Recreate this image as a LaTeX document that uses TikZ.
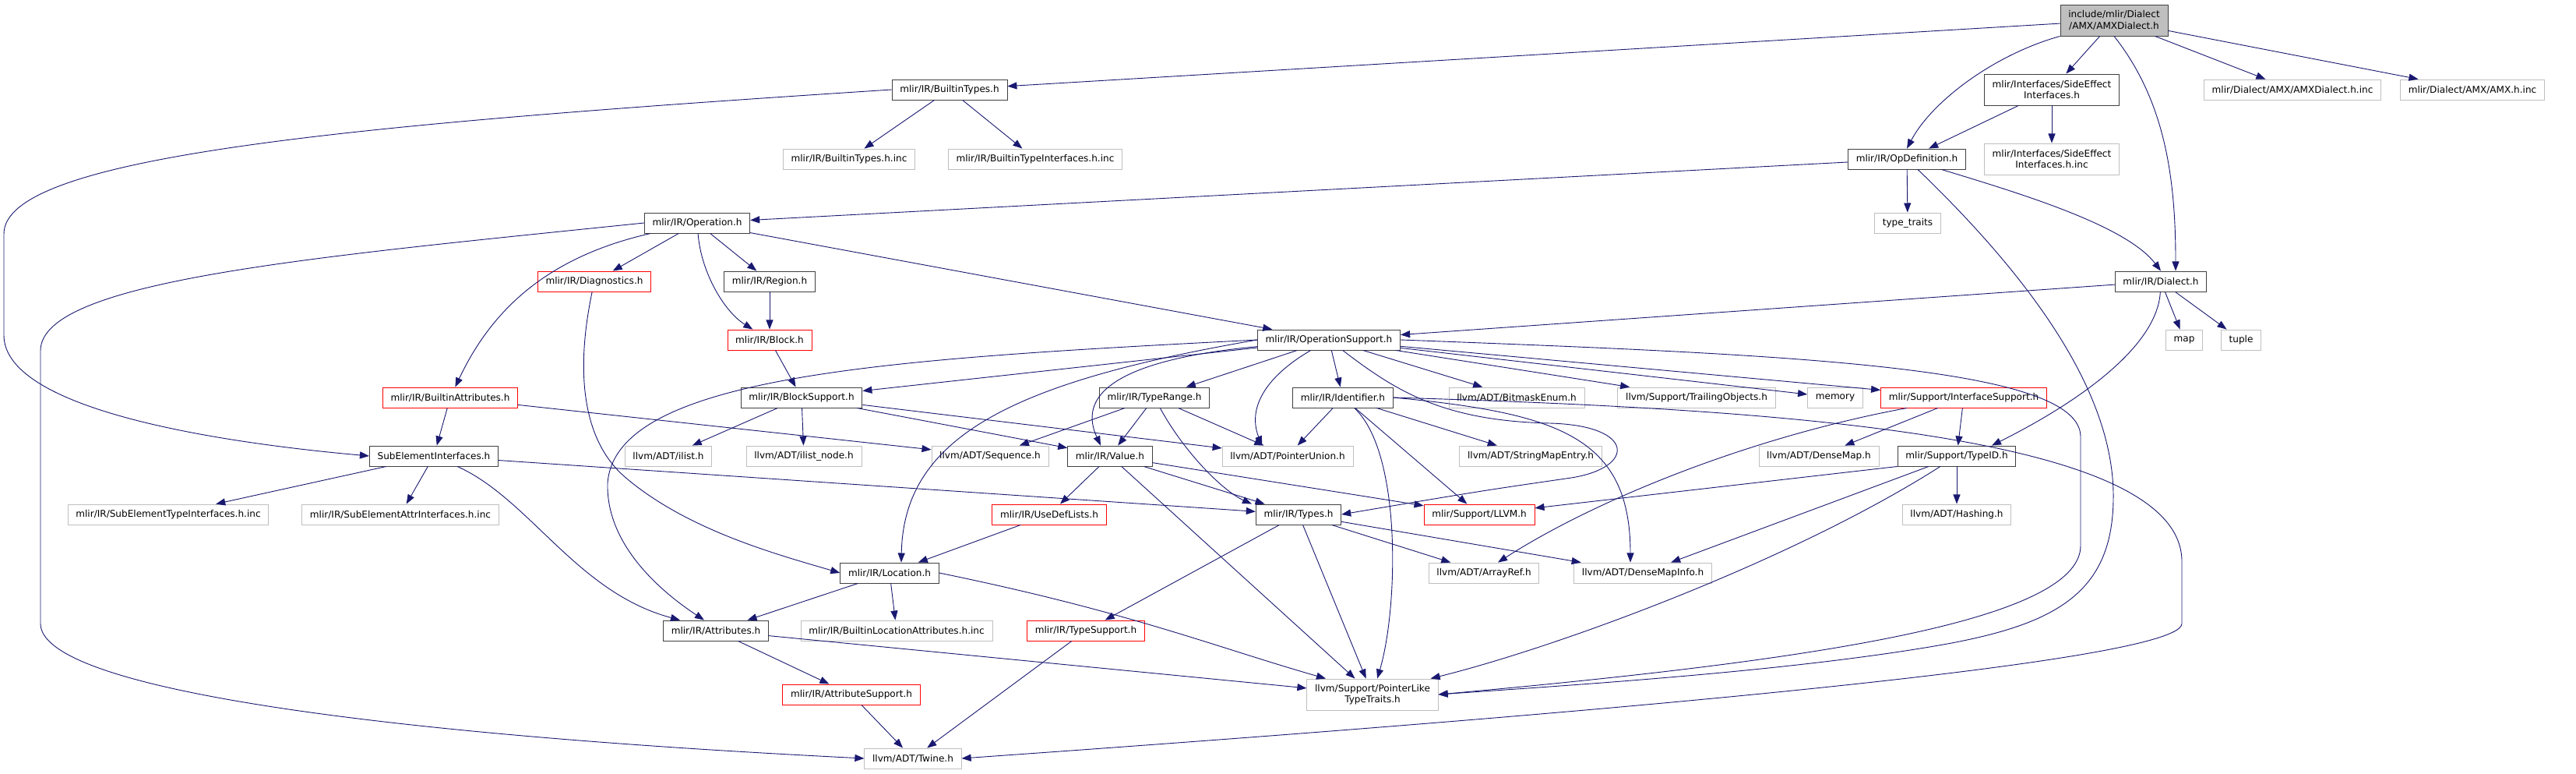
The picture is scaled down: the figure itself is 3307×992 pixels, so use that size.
\documentclass[tikz,border=0pt]{standalone}
\usepackage{fontspec}
\setmainfont{DejaVu Sans}
\usepackage{xcolor}
\usepackage{tikz}
\usetikzlibrary{arrows.meta,calc}

\definecolor{edgeblue}{HTML}{191970}
\definecolor{boxgrey}{HTML}{BFBFBF}

\tikzset{
  hdr/.style={draw=black!75, line width=0.7pt, fill=white, inner xsep=8.5pt, inner ysep=2pt,
    minimum height=21.6pt, align=center, font=\fontsize{10}{11.9}\selectfont},
  hdrdoc/.style={hdr},
  hdrcut/.style={hdr, draw=red},
  hdrext/.style={hdr, draw=boxgrey},
  hdrroot/.style={hdr, fill=boxgrey},
  tall/.style={minimum height=33.2pt},
  dep/.style={draw=edgeblue, line width=0.75pt, -{Triangle[length=10pt,width=7.5pt]}},
}

\begin{document}
\begin{tikzpicture}[x=0.829pt, y=-0.829pt]
\useasboundingbox (0,0) rectangle (3307,992);

\node[hdrroot, tall] (root) at (2714,26) {include/mlir/Dialect\\/AMX/AMXDialect.h};

\node[hdrdoc] (btypes) at (1219,115) {mlir/IR/BuiltinTypes.h};
\node[hdrdoc, tall] (sideeff) at (2634,115) {mlir/Interfaces/SideEffect\\Interfaces.h};
\node[hdrext] (amxdialinc) at (2943,115) {mlir/Dialect/AMX/AMXDialect.h.inc};
\node[hdrext] (amxinc) at (3174,115) {mlir/Dialect/AMX/AMX.h.inc};

\node[hdrext] (btypesinc) at (1090,204) {mlir/IR/BuiltinTypes.h.inc};
\node[hdrext] (btifaceinc) at (1329,204) {mlir/IR/BuiltinTypeInterfaces.h.inc};
\node[hdrdoc] (opdef) at (2448,204) {mlir/IR/OpDefinition.h};
\node[hdrext, tall] (sideeffinc) at (2634,204) {mlir/Interfaces/SideEffect\\Interfaces.h.inc};

\node[hdrdoc] (operation) at (895,286) {mlir/IR/Operation.h};
\node[hdrext] (typetraits) at (2449,286) {type\_traits};

\node[hdrcut] (diag) at (763,361) {mlir/IR/Diagnostics.h};
\node[hdrdoc] (region) at (988,361) {mlir/IR/Region.h};
\node[hdrdoc] (dialect) at (2774,361) {mlir/IR/Dialect.h};

\node[hdrcut] (block) at (988,436) {mlir/IR/Block.h};
\node[hdrdoc] (opsupp) at (1706,436) {mlir/IR/OperationSupport.h};
\node[hdrext] (mapn) at (2804,436) {map};
\node[hdrext] (tuplen) at (2877,436) {tuple};

\node[hdrcut] (battr) at (578,510) {mlir/IR/BuiltinAttributes.h};
\node[hdrdoc] (blocksupp) at (1029,510) {mlir/IR/BlockSupport.h};
\node[hdrdoc] (typerange) at (1482,510) {mlir/IR/TypeRange.h};
\node[hdrdoc] (ident) at (1724,510) {mlir/IR/Identifier.h};
\node[hdrext] (bitmask) at (1947,510) {llvm/ADT/BitmaskEnum.h};
\node[hdrext] (trailing) at (2178,510) {llvm/Support/TrailingObjects.h};
\node[hdrext] (memory) at (2356,510) {memory};
\node[hdrcut] (ifacesupp) at (2521,510) {mlir/Support/InterfaceSupport.h};

\node[hdrdoc] (subelem) at (557,585) {SubElementInterfaces.h};
\node[hdrext] (ilist) at (858,585) {llvm/ADT/ilist.h};
\node[hdrext] (ilistnode) at (1032,585) {llvm/ADT/ilist\_node.h};
\node[hdrext] (sequence) at (1271,585) {llvm/ADT/Sequence.h};
\node[hdrdoc] (value) at (1425,585) {mlir/IR/Value.h};
\node[hdrext] (ptrunion) at (1653,585) {llvm/ADT/PointerUnion.h};
\node[hdrext] (stringmap) at (1965,585) {llvm/ADT/StringMapEntry.h};
\node[hdrext] (densemap) at (2335,585) {llvm/ADT/DenseMap.h};
\node[hdrdoc] (typeid) at (2512,585) {mlir/Support/TypeID.h};

\node[hdrext] (subtypeinc) at (216,660) {mlir/IR/SubElementTypeInterfaces.h.inc};
\node[hdrext] (subattrinc) at (514,660) {mlir/IR/SubElementAttrInterfaces.h.inc};
\node[hdrcut] (usedef) at (1347,660) {mlir/IR/UseDefLists.h};
\node[hdrdoc] (types) at (1667,660) {mlir/IR/Types.h};
\node[hdrcut] (llvmh) at (1899,660) {mlir/Support/LLVM.h};
\node[hdrext] (hashing) at (2512,660) {llvm/ADT/Hashing.h};

\node[hdrdoc] (location) at (1142,735) {mlir/IR/Location.h};
\node[hdrext] (arrayref) at (1905,735) {llvm/ADT/ArrayRef.h};
\node[hdrext] (dmi) at (2109,735) {llvm/ADT/DenseMapInfo.h};

\node[hdrdoc] (attr) at (919,809) {mlir/IR/Attributes.h};
\node[hdrext] (locattrinc) at (1151,809) {mlir/IR/BuiltinLocationAttributes.h.inc};
\node[hdrcut] (typesupp) at (1394,809) {mlir/IR/TypeSupport.h};

\node[hdrcut] (attrsupp) at (1093,891) {mlir/IR/AttributeSupport.h};
\node[hdrext, tall] (pltt) at (1762,891) {llvm/Support/PointerLike\\TypeTraits.h};

\node[hdrext] (twine) at (1172,973) {llvm/ADT/Twine.h};

\foreach \a/\b in {root/btypes, root/sideeff, root/amxdialinc, root/amxinc,
    btypes/btypesinc, btypes/btifaceinc, sideeff/opdef, sideeff/sideeffinc,
    opdef/operation, opdef/typetraits, operation/diag, operation/region, operation/opsupp,
    region/block, block/blocksupp, dialect/opsupp, dialect/mapn, dialect/tuplen,
    battr/subelem, battr/sequence, subelem/subtypeinc, subelem/subattrinc, subelem/types,
    opsupp/blocksupp, opsupp/typerange, opsupp/ident, opsupp/bitmask, opsupp/trailing,
    opsupp/memory, opsupp/ifacesupp,
    blocksupp/ilist, blocksupp/ilistnode, blocksupp/value, blocksupp/ptrunion,
    typerange/sequence, typerange/value, typerange/ptrunion,
    value/usedef, value/types, value/llvmh, value/pltt, usedef/location,
    location/attr, location/locattrinc, attr/attrsupp, attr/pltt, attrsupp/twine,
    types/typesupp, types/arrayref, types/dmi, types/pltt, typesupp/twine,
    ident/ptrunion, ident/stringmap, ident/llvmh,
    ifacesupp/densemap, ifacesupp/typeid,
    typeid/hashing, typeid.south west/llvmh, typeid/dmi} {
  \draw[dep] (\a) -- (\b);
}

% curved ones
\draw[dep] (btypes.west) .. controls (450,160) and (5,200) .. (5,300) -- (5,430)
  .. controls (5,520) and (250,565) .. (subelem.west);
\draw[dep] (operation.west) .. controls (400,330) and (52,360) .. (52,450) -- (52,800)
  .. controls (52,880) and (450,940) .. (twine.west);
\draw[dep] (root.south west) .. controls (2560,70) and (2480,130) .. (opdef.north);
\draw[dep] (root.south) .. controls (2780,130) and (2793,230) .. ($(dialect.north)+(19,0)$);
\draw[dep] (opdef) .. controls (2600,250) and (2730,290) .. (dialect.north);
\draw[dep] (opdef) .. controls (2600,350) and (2715,500) .. (2713,640)
  .. controls (2712,760) and (2640,800) .. (2500,826)
  .. controls (2300,862) and (2000,880) .. (pltt.east);
\draw[dep] (operation) .. controls (700,330) and (630,400) .. (battr);
\draw[dep] (operation) .. controls (900,350) and (930,400) .. (block);
\draw[dep] (diag) .. controls (740,470) and (745,560) .. (800,610)
  .. controls (880,680) and (1000,712) .. (location.west);
\draw[dep] (dialect) .. controls (2770,440) and (2680,510) .. ($(typeid.north)+(45,0)$);
\draw[dep] (opsupp.west) .. controls (1150,460) and (790,480) .. (780,620)
  .. controls (778,700) and (850,760) .. ($(attr.north)+(-15,0)$);
\draw[dep] (opsupp.west) .. controls (1300,490) and (1160,560) .. ($(location.north)+(15,0)$);
\draw[dep] (opsupp) .. controls (1450,460) and (1380,500) .. ($(value.north)+(-12,0)$);
\draw[dep] (opsupp) .. controls (1630,480) and (1600,520) .. ($(ptrunion.north)+(-33,0)$);
\draw[dep] (opsupp) .. controls (1790,500) and (1850,540) .. (1990,543)
  .. controls (2100,546) and (2100,600) .. (2017,613)
  .. controls (1900,630) .. (types.east);
\draw[dep] (opsupp.east) .. controls (2300,455) and (2670,470) .. (2671,560) -- (2671,700)
  .. controls (2671,800) and (2300,850) .. (pltt.east);
\draw[dep] (subelem) .. controls (680,640) and (740,760) .. ($(attr.north)+(-46,0)$);
\draw[dep] (typerange) .. controls (1520,580) and (1570,630) .. ($(types.north)+(-60,0)$);
\draw[dep] (location.east) .. controls (1450,785) and (1560,830) .. ($(pltt.north)+(-60,0)$);
\draw[dep] (ident) .. controls (1800,580) and (1795,780) .. (pltt);
\draw[dep] (ident.east) .. controls (2000,530) and (2093,560) .. ($(dmi.north)+(-16,0)$);
\draw[dep] (ident.east) .. controls (2300,525) and (2800,560) .. (2801,720) -- (2801,800)
  .. controls (2801,860) and (1700,940) .. (twine.east);
\draw[dep] (ifacesupp) .. controls (2250,560) and (2050,640) .. ($(arrayref.north)+(18,0)$);
\draw[dep] (typeid) .. controls (2300,720) and (2000,830) .. ($(pltt.north east)+(-10,0)$);
\end{tikzpicture}
\end{document}
